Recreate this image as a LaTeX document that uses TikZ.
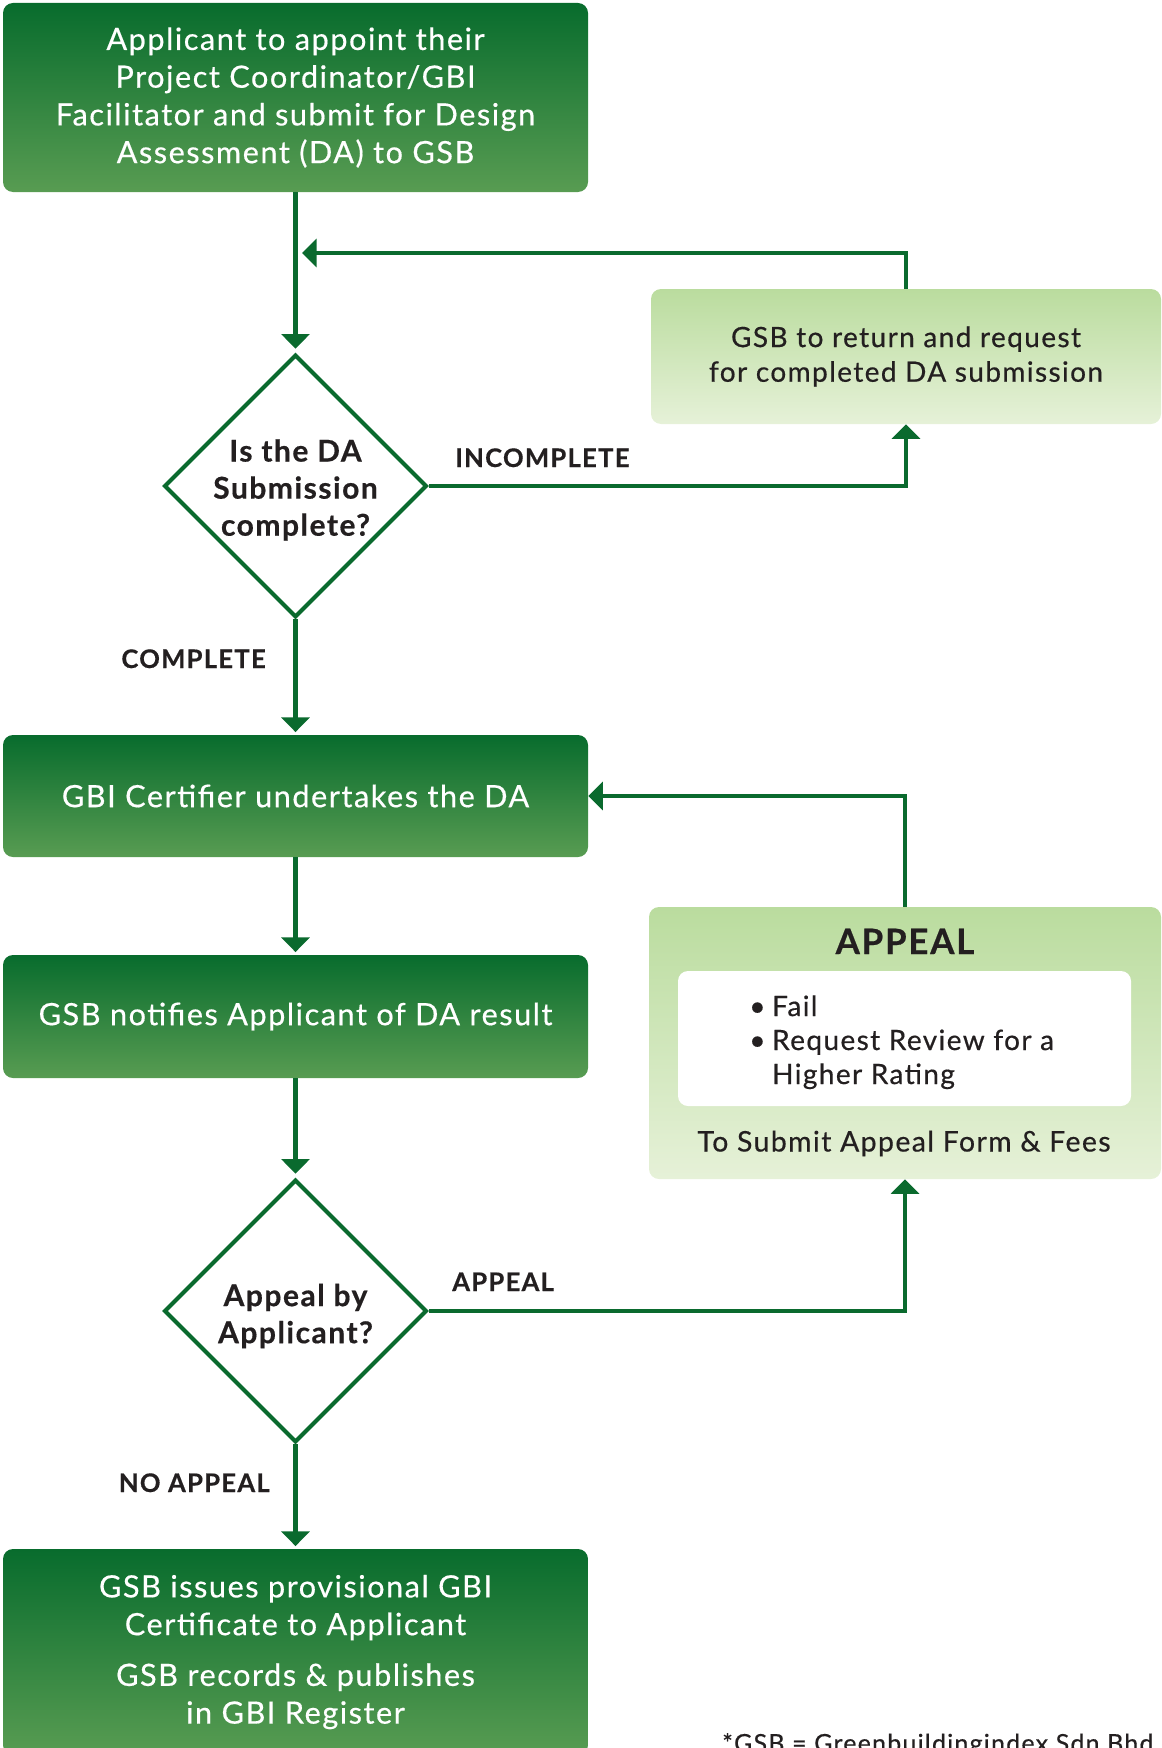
\documentclass[tikz,border=0pt]{standalone}
\usepackage{fontspec}
\setmainfont{Lato}[LetterSpace=5, FakeBold=0.5]
\usetikzlibrary{arrows.meta, shapes.geometric}
\definecolor{gbiline}{RGB}{10,106,46}
\definecolor{gbitop}{RGB}{8,108,45}
\definecolor{gbibot}{RGB}{88,156,82}
\definecolor{gbipaletop}{RGB}{186,220,158}
\definecolor{gbipalebot}{RGB}{230,241,216}
\definecolor{gbitext}{RGB}{35,31,32}
\tikzset{
  darkbox/.style={rectangle, rounded corners=7.5pt, top color=gbitop, bottom color=gbibot,
    text=white, align=center, minimum width=438.75pt, inner sep=0pt,
    font=\fontsize{23}{28.3}\selectfont},
  palebox/.style={rectangle, rounded corners=7.5pt, top color=gbipaletop, bottom color=gbipalebot,
    text=gbitext, align=center, inner sep=0pt, font=\fontsize{21}{26}\selectfont},
  decision/.style={diamond, draw=gbiline, line width=3pt, fill=white,
    minimum width=197pt, minimum height=197pt, inner sep=0pt},
  dtext/.style={text=gbitext, align=center, font=\bfseries\fontsize{22.5}{27.8}\selectfont},
  lbl/.style={text=gbitext, inner sep=0pt, font=\bfseries\fontsize{19.2}{22}\selectfont},
  flow/.style={draw=gbiline, line width=3.2pt, -{Triangle[width=21pt,length=11pt]}},
}
\begin{document}
\begin{tikzpicture}[x=0.75pt, y=-0.75pt]
\useasboundingbox (0,0) rectangle (1161,1748);
\clip (0,0) rectangle (1161,1748);
% 提交设计评估
\node[darkbox, minimum height=141.75pt] (b1) at (295.5,97.5)
  {Applicant to appoint their\\Project Coordinator/GBI\\Facilitator and submit for Design\\Assessment (DA) to GSB};
% 是否完整
\node[decision] (d1) at (295.5,486) {};
\node[dtext] at (295.5,490) {Is the DA\\Submission\\complete?};
% 退回补交
\node[palebox, minimum width=382.5pt, minimum height=101.25pt] (r1) at (906,356.5)
  {GSB to return and request\\for completed DA submission};
% 认证评估
\node[darkbox, minimum height=91.5pt] (b2) at (295.5,796) {GBI Certifier undertakes the DA};
% 通知结果
\node[darkbox, minimum height=92.25pt] (b3) at (295.5,1016.5) {GSB notifies Applicant of DA result};
% 申诉
\node[palebox, minimum width=384pt, minimum height=204pt] (ap) at (905,1043) {};
\node[text=gbitext, anchor=base, font=\bfseries\fontsize{26.2}{30}\selectfont] (aptitle) at (905,954) {APPEAL};
\node[rectangle, rounded corners=7.5pt, fill=white, minimum width=339.75pt,
  minimum height=101.25pt] (apin) at (904.5,1038.5) {};
\node[text=gbitext, anchor=base west, inner sep=0pt, font=\fontsize{21}{25.5}\selectfont] (aplist) at (749,1016)
  {\begin{tabular}[t]{@{}l@{\hspace{5pt}}l@{}}•&Fail\\•&Request Review for a\\&Higher Rating\end{tabular}};
\node[text=gbitext, anchor=base, font=\fontsize{21.3}{25}\selectfont] (apnote) at (904,1151.5) {To Submit Appeal Form \& Fees};
% 是否申诉
\node[decision] (d2) at (295.5,1311) {};
\node[dtext] at (295.5,1316) {Appeal by\\Applicant?};
% 发证
\node[darkbox, minimum height=154.5pt] (b4) at (295.5,1652)
  {GSB issues provisional GBI\\Certificate to Applicant\\[9.75pt]GSB records \& publishes\\in GBI Register};
% 注释
\node[text=gbitext, anchor=base west, inner sep=0pt, font=\mdseries\fontsize{18.7}{22}\selectfont] (fn) at (722,1752)
  {*GSB = Greenbuildingindex Sdn Bhd};
% 连线
\coordinate (m1) at (302,253);
\draw[flow, shorten >=3pt] (b1) -- (d1.north);
\draw[flow] (d1.east) -| (r1.south);
\draw[flow] (r1.north) |- (m1);
\draw[flow, shorten >=2pt] (d1.south) -- (b2.north);
\draw[flow, shorten >=2pt] (b2) -- (b3.north);
\draw[flow, shorten >=3pt] (b3) -- (d2.north);
\draw[flow] (d2.east) -| (ap.south);
\draw[flow] (ap.north) |- (b2.east);
\draw[flow, shorten >=2pt] (d2.south) -- (b4.north);
% 标签
\node[lbl, anchor=base west] (lincomplete) at (455,467) {INCOMPLETE};
\node[lbl, anchor=base east] (lcomplete) at (266,668) {COMPLETE};
\node[lbl, anchor=base west] (lappeal) at (452,1291) {APPEAL};
\node[lbl, anchor=base east] (lnoappeal) at (270,1492) {NO APPEAL};
\end{tikzpicture}
\end{document}
